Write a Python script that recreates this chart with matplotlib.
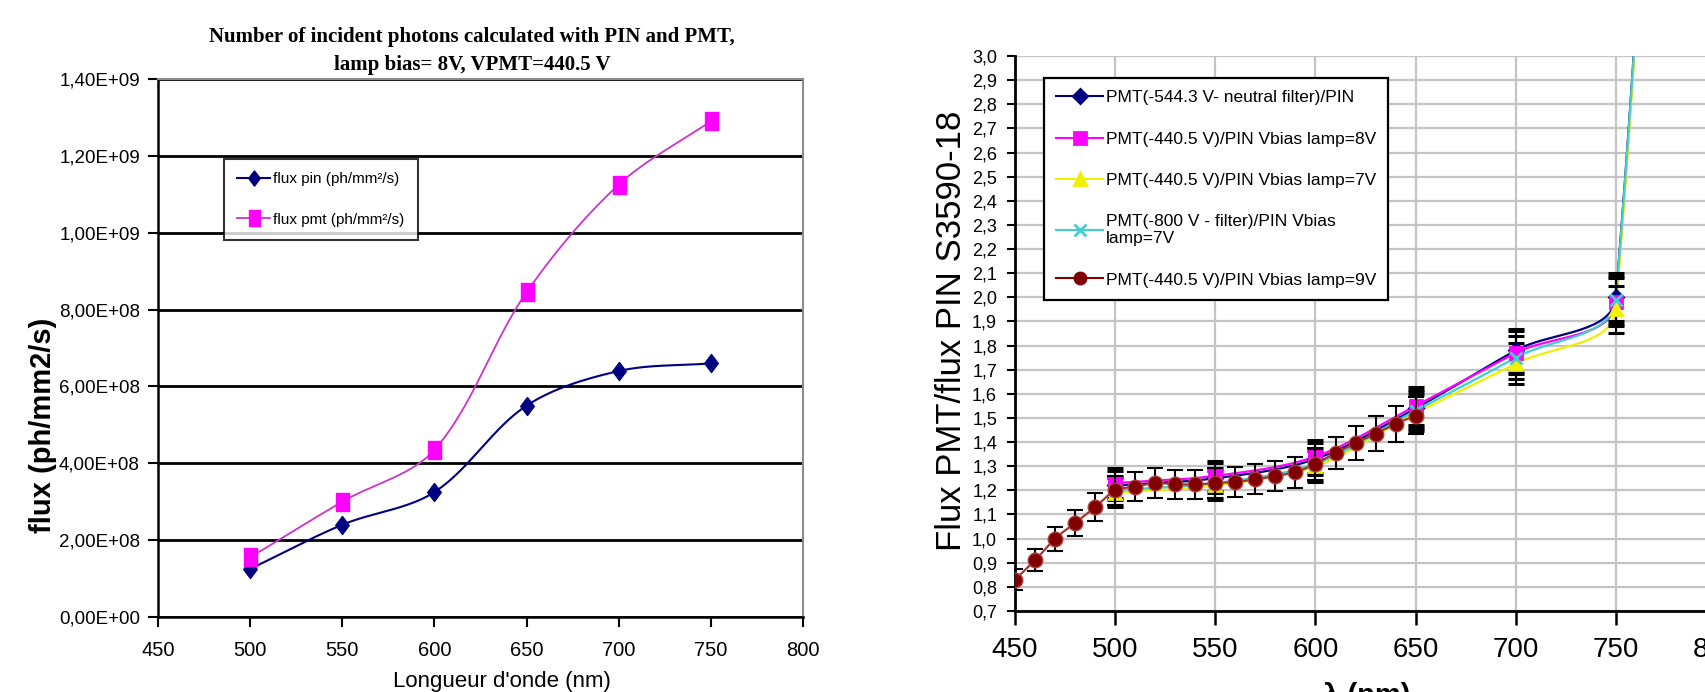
import numpy as np
import matplotlib
matplotlib.use("Agg")
import matplotlib.pyplot as plt
from matplotlib.path import Path
from matplotlib.ticker import FuncFormatter, MultipleLocator
from matplotlib import font_manager

# ---- left chart data (number of incident photons)
lam_flux = [500, 550, 600, 650, 700, 750]
flux_pin = [1.25e8, 2.40e8, 3.25e8, 5.50e8, 6.40e8, 6.60e8]
flux_pmt = [1.55e8, 3.00e8, 4.35e8, 8.45e8, 1.125e9, 1.29e9]

# ---- right chart data (ratio PMT / PIN)
lam_ratio = [500, 550, 600, 650, 700, 750, 800]
r_neutral = [1.22, 1.25, 1.33, 1.54, 1.78, 2.00, 12.0]
r_8v = [1.23, 1.26, 1.34, 1.55, 1.77, 1.98, 12.0]
r_7v = [1.19, 1.22, 1.30, 1.52, 1.725, 1.95, 12.0]
r_800v = [1.20, 1.23, 1.31, 1.53, 1.75, 1.99, 12.0]
err_neutral = [0.061, 0.063, 0.067, 0.077, 0.089, 0.10, 0]
err_8v = [0.062, 0.063, 0.067, 0.078, 0.089, 0.099, 0]
err_7v = [0.060, 0.061, 0.065, 0.076, 0.086, 0.098, 0]
err_800v = [0.060, 0.062, 0.066, 0.077, 0.088, 0.10, 0]

lam_9v = [450, 460, 470, 480, 490, 500, 510, 520, 530, 540, 550,
          560, 570, 580, 590, 600, 610, 620, 630, 640, 650]
r_9v = [0.83, 0.91, 1.00, 1.065, 1.13, 1.20, 1.215, 1.23, 1.225, 1.225, 1.23,
        1.235, 1.245, 1.26, 1.275, 1.31, 1.355, 1.395, 1.435, 1.475, 1.51]
err_9v = [0.042, 0.046, 0.05, 0.053, 0.057, 0.06, 0.061, 0.062, 0.061, 0.061, 0.062,
          0.062, 0.062, 0.063, 0.064, 0.066, 0.068, 0.07, 0.072, 0.074, 0.076]

labels_ratio = ["PMT(-544.3 V- neutral filter)/PIN",
                "PMT(-440.5 V)/PIN Vbias lamp=8V",
                "PMT(-440.5 V)/PIN Vbias lamp=7V",
                "PMT(-800 V - filter)/PIN Vbias\nlamp=7V",
                "PMT(-440.5 V)/PIN Vbias lamp=9V"]

avail = {f.name for f in font_manager.fontManager.ttflist}
NARROW = "Liberation Sans Narrow" if "Liberation Sans Narrow" in avail else "Liberation Sans"
SANS = "Liberation Sans"


def smooth(ax, x, y, k=1/3, n=40):
    # Excel-like smoothed line, bezier segments built in pixel space
    p = ax.transData.transform(np.column_stack([x, y]))
    m = len(p)
    out = [p[:1]]
    for i in range(m - 1):
        a, b, c, d = p[max(i - 1, 0)], p[i], p[i + 1], p[min(i + 2, m - 1)]
        l0, l1, l2 = np.hypot(*(b - a)), np.hypot(*(c - b)), np.hypot(*(d - c))
        t1 = (c - a) * k * l1 / (l0 + l1) if l0 > 0 else (c - b) * k
        t2 = (d - b) * k * l1 / (l1 + l2) if l2 > 0 else (c - b) * k
        c1, c2 = b + t1, c - t2
        t = np.linspace(0, 1, n)[1:, None]
        out.append((1 - t)**3 * b + 3 * (1 - t)**2 * t * c1 + 3 * (1 - t) * t**2 * c2 + t**3 * c)
    q = ax.transData.inverted().transform(np.vstack(out))
    return q[:, 0], q[:, 1]


tall_diamond = Path([(0, 1), (0.75, 0), (0, -1), (-0.75, 0), (0, 1)])
tall_square = Path([(-0.72, -1), (0.72, -1), (0.72, 1), (-0.72, 1), (-0.72, -1)])

fig = plt.figure(figsize=(17.06, 6.92), dpi=100)

# ================= left chart
ax1 = fig.add_axes([0.0926, 0.1084, 0.3781, 0.7775])
ax1.set_xlim(450, 800)
ax1.set_ylim(0, 1.4e9)
ax1.xaxis.set_major_locator(MultipleLocator(50))
ax1.yaxis.set_major_locator(MultipleLocator(2e8))
ax1.yaxis.set_major_formatter(FuncFormatter(lambda v, _: f"{v:.2E}".replace(".", ",")))
ax1.grid(axis="y", color="black", lw=2.0)
ax1.set_axisbelow(True)
for s in ("top", "right"):
    ax1.spines[s].set_color("#8c8c8c")
    ax1.spines[s].set_linewidth(1.5)
for s in ("left", "bottom"):
    ax1.spines[s].set_linewidth(1.8)
ax1.tick_params(axis="both", length=7, width=1.5, direction="out")
ax1.tick_params(axis="y", pad=6, labelsize=13.5)
ax1.tick_params(axis="x", pad=10, labelsize=14.5)
for lab in ax1.get_xticklabels() + ax1.get_yticklabels():
    lab.set_family(NARROW)

fig.canvas.draw()
ax1.yaxis.get_gridlines()[-1].set_visible(False)

sx, sy = smooth(ax1, lam_flux, flux_pin)
ax1.plot(sx, sy, color="#000080", lw=1.5)
ax1.plot(lam_flux, flux_pin, ls="none", marker=tall_diamond, ms=13, color="#000080")
sx, sy = smooth(ax1, lam_flux, flux_pmt)
ax1.plot(sx, sy, color="#cc33cc", lw=1.3)
ax1.plot(lam_flux, flux_pmt, ls="none", marker=tall_square, ms=13, color="#ff00ff")

h1 = plt.Line2D([], [], color="#000080", lw=1.5, marker=tall_diamond, ms=11)
h2 = plt.Line2D([], [], color="#cc33cc", lw=1.3, marker=tall_square, ms=11,
                mfc="#ff00ff", mec="#ff00ff")
leg1 = ax1.legend([h1, h2], ["flux pin (ph/mm²/s)", "flux pmt (ph/mm²/s)"],
                  loc="upper left", bbox_to_anchor=(0.102, 0.851), borderaxespad=0,
                  prop=font_manager.FontProperties(family=NARROW, size=11),
                  handlelength=2.2, handletextpad=0.2, labelspacing=1.75, borderpad=0.85,
                  fancybox=False, frameon=True, edgecolor="black")
leg1.get_frame().set_linewidth(1.5)

fig.text(0.2767, 0.9465, "Number of incident photons calculated with PIN and PMT,",
         ha="center", va="center", fontsize=15, family="Liberation Serif", fontweight="bold")
fig.text(0.2767, 0.9061, "lamp bias= 8V, VPMT=440.5 V",
         ha="center", va="center", fontsize=15, family="Liberation Serif", fontweight="bold")
fig.text(0.0252, 0.386, "flux (ph/mm2/s)", rotation=90, ha="center", va="center",
         fontsize=21, fontweight="bold", family=SANS)
fig.text(0.2943, 1 - 681 / 692, "Longueur d'onde (nm)", ha="center", va="center",
         fontsize=16, family=NARROW)

# ================= right chart
ax2 = fig.add_axes([0.5950, 0.1171, 0.4109, 0.8020])
ax2.set_xlim(450, 800)
ax2.set_ylim(0.7, 3.0)
ax2.xaxis.set_major_locator(MultipleLocator(50))
ax2.yaxis.set_major_locator(MultipleLocator(0.1))
ax2.yaxis.set_major_formatter(FuncFormatter(lambda v, _: f"{v:.1f}".replace(".", ",")))
ax2.grid(True, color="#c4c4c4", lw=1.6)
ax2.set_axisbelow(True)
ax2.spines["top"].set_visible(False)
ax2.spines["right"].set_visible(False)
for s in ("left", "bottom"):
    ax2.spines[s].set_linewidth(2.0)
ax2.tick_params(axis="x", length=10, width=1.8, pad=9, labelsize=20)
ax2.tick_params(axis="y", length=6, width=1.5, pad=7, labelsize=13)
for lab in ax2.get_xticklabels() + ax2.get_yticklabels():
    lab.set_family(SANS)
fig.canvas.draw()

series = [
    (r_neutral, err_neutral, "#000080", "D", 7),
    (r_8v, err_8v, "#ff00ff", "s", 8),
    (r_7v, err_7v, "#f0f000", "^", 8),
    (r_800v, err_800v, "#40d0d0", "x", 8),
]
handles = []
for vals, err, col, mk, ms in series:
    sx, sy = smooth(ax2, lam_ratio, vals)
    ax2.plot(sx, sy, color=col, lw=1.6, zorder=3)
    ax2.errorbar(lam_ratio, vals, yerr=err, fmt="none", ecolor="black",
                 elinewidth=1.5, capsize=6, capthick=2.2, zorder=4)
    ax2.plot(lam_ratio, vals, ls="none", marker=mk, ms=ms, color=col, mew=2, zorder=5)
    handles.append(plt.Line2D([], [], color=col, lw=1.5, marker=mk, ms=ms, mew=2))

sx, sy = smooth(ax2, lam_9v, r_9v)
ax2.plot(sx, sy, color="#a0302a", lw=1.5, zorder=6)
ax2.errorbar(lam_9v, r_9v, yerr=err_9v, fmt="none", ecolor="black",
             elinewidth=1.5, capsize=6, capthick=1.5, zorder=7)
ax2.plot(lam_9v, r_9v, ls="none", marker="o", ms=10.5, mfc="#800000", mec="#b04040",
         mew=1, zorder=8)
handles.append(plt.Line2D([], [], color="#800000", lw=1.5, marker="o", ms=9,
                          mfc="#800000", mec="#800000"))

leg2 = ax2.legend(handles, labels_ratio, loc="upper left", bbox_to_anchor=(0.0414, 0.960),
                  borderaxespad=0, prop=font_manager.FontProperties(family=SANS, size=12.5),
                  handlelength=2.7, handletextpad=0.15, labelspacing=1.5, borderpad=0.7,
                  fancybox=False, frameon=True, edgecolor="black", framealpha=1)
leg2.get_frame().set_linewidth(1.6)
leg2.set_zorder(10)

fig.text(0.558, 0.5217, "Flux PMT/flux PIN S3590-18", rotation=90, ha="center", va="center",
         fontsize=25, family=SANS)
fig.text(1367 / 1706, 1 - 682 / 692, "λ (nm)", ha="center", va="top",
         fontsize=21, fontweight="bold", family=SANS)

fig.savefig("out.png", dpi=100)
